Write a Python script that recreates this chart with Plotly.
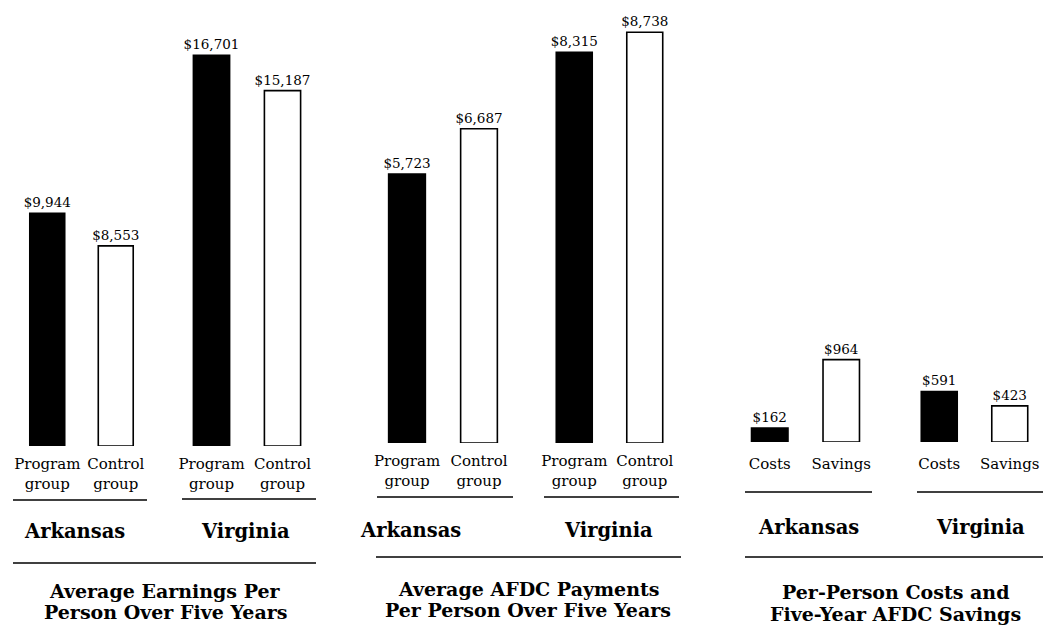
import plotly.graph_objects as go

# ---------------- data ----------------
states = ["Arkansas", "Virginia"]
group_labels = ["Program<br>group", "Control<br>group"]
cost_labels = ["Costs", "Savings"]
panel_titles = [
    ["Average Earnings Per", "Person Over Five Years"],
    ["Average AFDC Payments", "Per Person Over Five Years"],
    ["Per-Person Costs and", "Five-Year AFDC Savings"],
]
earnings_program = [9944, 16701]
earnings_control = [8553, 15187]
afdc_program = [5723, 8315]
afdc_control = [6687, 8738]
per_person_costs = [162, 591]
afdc_savings = [964, 423]

panels = [
    (group_labels, earnings_program, earnings_control),
    (group_labels, afdc_program, afdc_control),
    (cost_labels, per_person_costs, afdc_savings),
]

# ---------------- layout geometry (pixels) ----------------
W, H = 1045, 629
FONT = "DejaVu Serif"
x_dom_px = [[(13, 150), (176, 318)], [(371, 515), (539, 680)], [(734, 877), (904, 1045)]]
# (top px, baseline px, px per 1000 units)
y_geo = [(20, 446, 23.4), (20, 443, 47.0), (20, 442, 85.5)]
tick_standoff = [7, 7, 11]
short_lines = [[(13, 147, 500), (182, 316, 499)],
               [(377, 513, 497), (544, 679, 497)],
               [(745, 872, 492), (917, 1043, 492)]]
long_lines = [(13, 316, 563), (376, 681, 557), (745, 1043, 557)]
state_pos = [[(74, 531), (245, 531)], [(410, 530), (608, 530)], [(808, 527), (980, 527)]]
title_pos = [(165, (591, 612)), (528, (589, 610)), (895, (592, 614))]

px = lambda v: v / W
py = lambda v: 1 - v / H

fig = go.Figure()
layout = dict(
    width=W, height=H, margin=dict(l=0, r=0, t=0, b=0),
    paper_bgcolor="white", plot_bgcolor="white",
    showlegend=False, bargap=0.49,
    font=dict(family=FONT, color="black"),
)
shapes, annotations = [], []

ax = 0
for p, (cats, first, second) in enumerate(panels):
    top, base, scale = y_geo[p]
    yname = "yaxis" if p == 0 else f"yaxis{p + 1}"
    yref = "y" if p == 0 else f"y{p + 1}"
    layout[yname] = dict(
        domain=[py(base), py(top)], range=[0, (base - top) / scale * 1000],
        visible=False, fixedrange=True,
    )
    for s, state in enumerate(states):
        ax += 1
        xname = "xaxis" if ax == 1 else f"xaxis{ax}"
        xref = "x" if ax == 1 else f"x{ax}"
        d0, d1 = x_dom_px[p][s]
        layout[xname] = dict(
            domain=[px(d0), px(d1)], anchor=yref, type="category",
            showline=False, showgrid=False, zeroline=False, ticks="",
            ticklabelstandoff=tick_standoff[p],
            tickfont=dict(family=FONT, size=15, color="black"),
        )
        vals = [first[s], second[s]]
        fig.add_trace(go.Bar(
            x=cats, y=vals, xaxis=xref, yaxis=yref,
            marker=dict(color=["black", "white"], line=dict(color="black", width=1.6)),
            text=[f"${v:,}" for v in vals], textposition="outside",
            constraintext="none",
            textfont=dict(family=FONT, size=13.5, color="black"),
            cliponaxis=False, hoverinfo="skip",
        ))
        x0, x1, yy = short_lines[p][s]
        shapes.append(dict(type="line", xref="paper", yref="paper",
                           x0=px(x0), x1=px(x1), y0=py(yy), y1=py(yy),
                           line=dict(color="black", width=1.6)))
        sx, sy = state_pos[p][s]
        annotations.append(dict(text=f"<b>{state}</b>", xref="paper", yref="paper",
                                x=px(sx), y=py(sy), xanchor="center", yanchor="middle",
                                showarrow=False, font=dict(family=FONT, size=19.5, color="black")))
    x0, x1, yy = long_lines[p]
    shapes.append(dict(type="line", xref="paper", yref="paper",
                       x0=px(x0), x1=px(x1), y0=py(yy), y1=py(yy),
                       line=dict(color="black", width=1.6)))
    tx, tys = title_pos[p]
    for line_text, ty in zip(panel_titles[p], tys):
        annotations.append(dict(text=f"<b>{line_text}</b>", xref="paper", yref="paper",
                                x=px(tx), y=py(ty), xanchor="center", yanchor="middle",
                                showarrow=False, font=dict(family=FONT, size=19, color="black")))

layout["shapes"] = shapes
layout["annotations"] = annotations
fig.update_layout(**layout)
fig.write_html("out.html")
